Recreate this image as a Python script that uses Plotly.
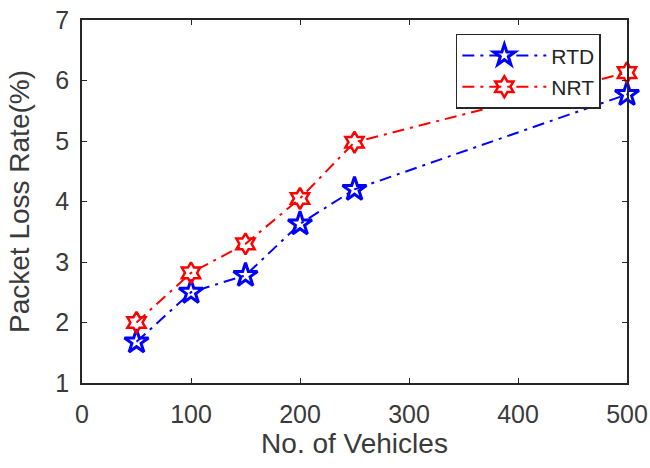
import plotly.graph_objects as go

vehicles = [50, 100, 150, 200, 250, 500]
rtd = [1.68, 2.5, 2.78, 3.63, 4.2, 5.77]
nrt = [2.0, 2.82, 3.3, 4.05, 4.98, 6.13]

x_ticks = [0, 100, 200, 300, 400, 500]
y_ticks = [1, 2, 3, 4, 5, 6, 7]

FONT = "Liberation Sans, Arial"
DASH = "12px,6px,3px,6px"

fig = go.Figure()
fig.add_trace(go.Scatter(
    x=vehicles, y=rtd, name="RTD", mode="lines+markers", legendgroup="a",
    line=dict(color="#0000FF", width=2, dash=DASH),
    marker=dict(symbol="star-open", size=18, color="#0000FF", line=dict(width=3, color="#0000FF")),
    cliponaxis=False,
))
fig.add_trace(go.Scatter(
    x=vehicles, y=nrt, name="NRT", mode="lines+markers", legendgroup="b",
    line=dict(color="#FF0000", width=2, dash=DASH),
    marker=dict(symbol="hexagram-open", size=16, color="#FF0000", line=dict(width=2.5, color="#FF0000")),
    cliponaxis=False,
))

axis_common = dict(
    showline=True, mirror="ticks", linecolor="#262626", linewidth=1.5,
    ticks="inside", ticklen=5, tickcolor="#262626", showgrid=False, zeroline=False,
    tickfont=dict(family=FONT, size=25, color="#3a3a3a"), automargin=False,
)

fig.update_layout(
    width=650, height=468,
    margin=dict(l=82, r=23, t=20, b=85),
    plot_bgcolor="white", paper_bgcolor="white",
    xaxis=dict(range=[0, 500], tickvals=x_ticks, ticklabelstandoff=8,
               title=dict(text="No. of Vehicles", font=dict(family=FONT, size=28, color="#3a3a3a"), standoff=2),
               **axis_common),
    yaxis=dict(range=[1, 7], tickvals=y_ticks, ticklabelstandoff=6,
               title=dict(text="Packet Loss Rate(%)", font=dict(family=FONT, size=28, color="#3a3a3a"), standoff=18),
               **axis_common),
    legend=dict(x=0.952, y=0.962, xanchor="right", yanchor="top",
                bordercolor="#262626", borderwidth=1.5, bgcolor="white",
                font=dict(family=FONT, size=21, color="#262626"),
                itemwidth=84, tracegroupgap=1),
    showlegend=True,
)

fig.write_html("out.html")
